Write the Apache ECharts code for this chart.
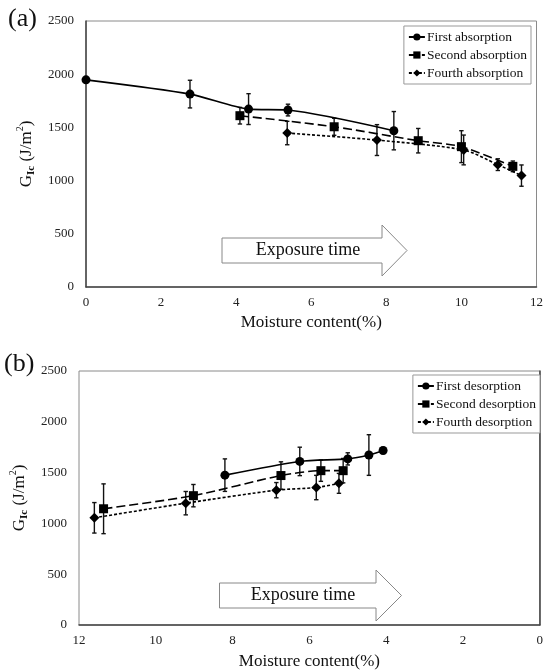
<!DOCTYPE html>
<html>
<head>
<meta charset="utf-8">
<script src="https://cdn.jsdelivr.net/npm/echarts@6/dist/echarts.min.js"></script>
<style>html,body{margin:0;padding:0;background:#fff;}#c{width:546px;height:671px;}</style>
</head>
<body>
<div id="c"></div>
<script>
// ---- Data (a) absorption ----
const absorbNames = ['First absorption', 'Second absorption', 'Fourth absorption'];
const absorb1X = [0, 2.77, 4.33, 5.38, 8.2];
const absorb1Y = [1947, 1813, 1672, 1663, 1469];
const absorb1Err = [20, 130, 145, 55, 180];
const absorb2X = [4.1, 6.61, 8.85, 10.0, 11.37];
const absorb2Y = [1610, 1506, 1375, 1319, 1134];
const absorb2Err = [78, 80, 115, 150, 50];
const absorb4X = [5.36, 7.75, 10.06, 10.97, 11.6];
const absorb4Y = [1447, 1381, 1288, 1150, 1047];
const absorb4Err = [110, 145, 140, 55, 100];

// ---- Data (b) desorption ----
const desorbNames = ['First desorption', 'Second desorption', 'Fourth desorption'];
const desorb1X = [8.2, 6.25, 5.0, 4.45, 4.08];
const desorb1Y = [1475, 1610, 1635, 1673, 1718];
const desorb1Err = [160, 140, 60, 200, 30];
const desorb2X = [11.36, 9.02, 6.74, 5.7, 5.12];
const desorb2Y = [1144, 1273, 1471, 1519, 1519];
const desorb2Err = [245, 110, 135, 105, 120];
const desorb4X = [11.6, 9.22, 6.86, 5.82, 5.23];
const desorb4Y = [1055, 1199, 1327, 1353, 1394];
const desorb4Err = [150, 115, 75, 120, 98];

const xTicks = [0, 2, 4, 6, 8, 10, 12];
const yTicks = [0, 500, 1000, 1500, 2000, 2500];

const SERIF = 'Liberation Serif, DejaVu Serif, serif';

function pairs(xs, ys) { return xs.map((x, i) => [x, ys[i]]); }
function errs(xs, ys, es) { return xs.map((x, i) => [x, ys[i] - es[i], ys[i] + es[i]]); }

function renderErr(params, api) {
  const x = api.value(0), lo = api.value(1), hi = api.value(2);
  const p1 = api.coord([x, lo]), p2 = api.coord([x, hi]);
  const w = 2.2;
  const st = { stroke: '#111', lineWidth: 1.4 };
  return {
    type: 'group',
    children: [
      { type: 'line', shape: { x1: p1[0], y1: p1[1], x2: p2[0], y2: p2[1] }, style: st },
      { type: 'line', shape: { x1: p1[0] - w, y1: p1[1], x2: p1[0] + w, y2: p1[1] }, style: st },
      { type: 'line', shape: { x1: p2[0] - w, y1: p2[1], x2: p2[0] + w, y2: p2[1] }, style: st }
    ]
  };
}

const styles = [
  { symbol: 'circle', size: 9, type: 'solid' },
  { symbol: 'rect', size: 9, type: [9, 4] },
  { symbol: 'diamond', size: 10, type: [3, 2] }
];

function lineSeries(name, data, k, gi) {
  return {
    name: name, type: 'line', xAxisIndex: gi, yAxisIndex: gi,
    data: data, smooth: 0.25,
    symbol: styles[k].symbol, symbolSize: styles[k].size,
    itemStyle: { color: '#000' },
    lineStyle: { color: '#000', width: 1.6, type: styles[k].type },
    z: 3
  };
}
function errSeries(data, gi) {
  return {
    type: 'custom', xAxisIndex: gi, yAxisIndex: gi, data: data,
    renderItem: renderErr, encode: { x: 0, y: [1, 2] }, z: 2, silent: true
  };
}

const yName = '{g|G}{s|Ic}{g| (J/m}{p|2}{g|)}';
const yNameRich = {
  g: { fontFamily: SERIF, fontSize: 17, color: '#111', lineHeight: 22, verticalAlign: 'middle' },
  s: { fontFamily: SERIF, fontSize: 11, color: '#111', lineHeight: 22, verticalAlign: 'bottom', fontWeight: 'bold' },
  p: { fontFamily: SERIF, fontSize: 10, color: '#111', lineHeight: 22, verticalAlign: 'top' }
};

function xAxisDef(gi, inverse, nameGap) {
  return {
    type: 'value', gridIndex: gi, min: 0, max: 12, interval: 2, inverse: inverse,
    name: 'Moisture content(%)', nameLocation: 'middle', nameGap: nameGap,
    nameTextStyle: { fontFamily: SERIF, fontSize: 17, color: '#111' },
    axisLine: { show: true, onZero: false, lineStyle: { color: '#444', width: 1.5 } },
    axisTick: { show: false },
    splitLine: { show: false },
    axisLabel: { fontFamily: SERIF, fontSize: 13, color: '#222', margin: 9,
      formatter: v => xTicks.includes(v) ? String(v) : '' }
  };
}
function yAxisDef(gi, nameGap) {
  return {
    type: 'value', gridIndex: gi, min: 0, max: 2500, interval: 500,
    name: yName, nameLocation: 'middle', nameGap: nameGap, nameRotate: 90,
    nameTextStyle: { rich: yNameRich },
    axisLine: { show: true, lineStyle: { color: '#444', width: 1.5 } },
    axisTick: { show: false },
    splitLine: { show: false },
    axisLabel: { fontFamily: SERIF, fontSize: 13, color: '#222', margin: 12,
      formatter: v => yTicks.includes(v) ? String(v) : '' }
  };
}

function legendDef(names, right, top) {
  return {
    data: names, orient: 'vertical', right: right, top: top,
    itemWidth: 16, itemHeight: 9, itemGap: 4,
    backgroundColor: '#fff', borderColor: '#999', borderWidth: 1,
    padding: [4, 4, 4, 4],
    textStyle: { fontFamily: SERIF, fontSize: 13.5, color: '#111', padding: [0, 0, 0, -3] }
  };
}

function arrow(x0, x1, xt, yTop, yBot, hTop, hBot, textX, text) {
  const yMid = (hTop + hBot) / 2;
  return [
    {
      type: 'polygon', z: 1,
      shape: { points: [[x0, yTop], [x1, yTop], [x1, hTop], [xt, yMid], [x1, hBot], [x1, yBot], [x0, yBot]] },
      style: { fill: '#fff', stroke: '#888', lineWidth: 1 }
    },
    {
      type: 'text', z: 2, x: textX, y: (yTop + yBot) / 2,
      style: { text: text, font: '18px ' + SERIF, fill: '#111', align: 'center', verticalAlign: 'middle' }
    }
  ];
}

const chart = echarts.init(document.getElementById('c'), null, { renderer: 'canvas' });
chart.setOption({
  animation: false,
  backgroundColor: '#fff',
  grid: [
    { left: 86, right: 8, top: 21, height: 266, show: true, borderColor: '#8a8a8a', borderWidth: 1, backgroundColor: 'transparent' },
    { left: 79, right: 4, top: 371, height: 261, show: true, borderColor: '#8a8a8a', borderWidth: 1, backgroundColor: 'transparent' }
  ],
  xAxis: [xAxisDef(0, false, 27), xAxisDef(1, true, 28)],
  yAxis: [yAxisDef(0, 46), yAxisDef(1, 44)],
  legend: [legendDef(absorbNames, 15, 26), legendDef(desorbNames, 6, 375)],
  graphic: [
    { type: 'text', x: 8, y: 6, style: { text: '(a)', font: '26px ' + SERIF, fill: '#111' } },
    { type: 'text', x: 4, y: 351, style: { text: '(b)', font: '26px ' + SERIF, fill: '#111' } },
    ...arrow(222, 382, 407, 238, 263, 225, 276, 308, 'Exposure time'),
    ...arrow(219.5, 376, 401.5, 583, 608, 570, 621, 303, 'Exposure time')
  ],
  series: [
    errSeries(errs(absorb1X, absorb1Y, absorb1Err), 0),
    errSeries(errs(absorb2X, absorb2Y, absorb2Err), 0),
    errSeries(errs(absorb4X, absorb4Y, absorb4Err), 0),
    lineSeries(absorbNames[0], pairs(absorb1X, absorb1Y), 0, 0),
    lineSeries(absorbNames[1], pairs(absorb2X, absorb2Y), 1, 0),
    lineSeries(absorbNames[2], pairs(absorb4X, absorb4Y), 2, 0),
    errSeries(errs(desorb1X, desorb1Y, desorb1Err), 1),
    errSeries(errs(desorb2X, desorb2Y, desorb2Err), 1),
    errSeries(errs(desorb4X, desorb4Y, desorb4Err), 1),
    lineSeries(desorbNames[0], pairs(desorb1X, desorb1Y), 0, 1),
    lineSeries(desorbNames[1], pairs(desorb2X, desorb2Y), 1, 1),
    lineSeries(desorbNames[2], pairs(desorb4X, desorb4Y), 2, 1)
  ]
});
</script>
</body>
</html>
